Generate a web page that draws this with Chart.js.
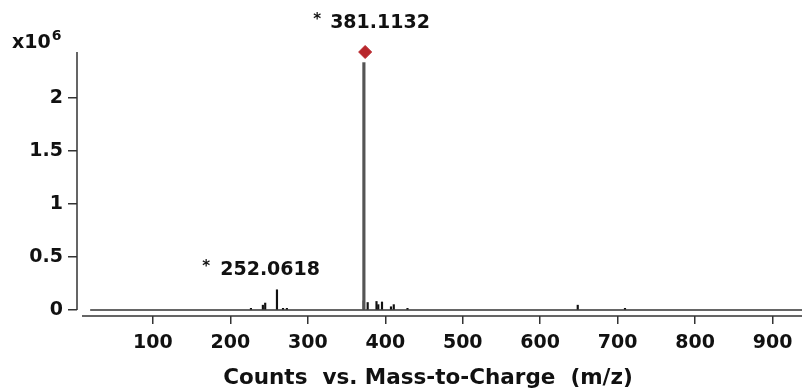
<!DOCTYPE html>
<html lang="en">
<head>
  <meta charset="UTF-8" />
  <title>Counts vs. Mass-to-Charge</title>
  <script src="https://cdn.jsdelivr.net/npm/chart.js"></script>
  <style>
    html, body { margin: 0; padding: 0; background: #fff; }
    #wrap { width: 802px; height: 392px; }
  </style>
</head>
<body>
  <div id="wrap"><canvas id="ms"></canvas></div>
  <script>
    // spectrum sticks (m/z, counts in x10^6)
    const mzValues    = [225.6, 241, 244, 259.2, 267, 272, 371.2, 376.3, 387.7, 390, 394.8, 406.4, 410, 427.7, 647.5, 708.5];
    const intensities = [0.015, 0.045, 0.065, 0.19, 0.015, 0.015, 0.085, 0.07, 0.08, 0.05, 0.075, 0.03, 0.05, 0.015, 0.045, 0.015];
    const basePeakMz  = [374];
    const basePeakVal = [2.33];
    const baselineMz  = [19, 938];
    const xTickValues = [100, 200, 300, 400, 500, 600, 700, 800, 900];
    const yTickValues = [0, 0.5, 1, 1.5, 2];
    const peakLabels  = ['381.1132', '252.0618'];
    const labelPeakMz = [374, 259.2];
    const markerMz    = [374];
    const markerValue = [2.43];

    const FONT = "'DejaVu Sans', sans-serif";
    const INK = '#111';

    const sticks = mzValues.map((x, i) => ({ x, y: intensities[i] }));
    const basePeak = basePeakMz.map((x, i) => ({ x, y: basePeakVal[i] }));
    const baseline = baselineMz.map(x => ({ x, y: 0 }));
    const marker = markerMz.map((x, i) => ({ x, y: markerValue[i] }));

    // axis lines drawn by hand: y axis stops at zero, x axis sits a bit below it
    const axisLines = {
      id: 'axisLines',
      afterDraw(chart) {
        const { ctx, chartArea: a, scales } = chart;
        const y0 = scales.y.getPixelForValue(0);
        ctx.save();
        ctx.strokeStyle = '#333';
        ctx.lineWidth = 1.5;
        ctx.beginPath();
        ctx.moveTo(a.left, a.top);
        ctx.lineTo(a.left, y0);
        ctx.moveTo(a.left + 5, a.bottom);
        ctx.lineTo(chart.width, a.bottom);
        ctx.stroke();

        // x10^6 exponent label
        ctx.fillStyle = INK;
        ctx.textBaseline = 'alphabetic';
        ctx.textAlign = 'left';
        ctx.font = `bold 19px ${FONT}`;
        ctx.fillText('x10', 12, 48);
        const w = ctx.measureText('x10').width;
        ctx.font = `bold 14px ${FONT}`;
        ctx.fillText('6', 12 + w + 1, 40);

        // peak annotations
        const offsets = [[-52, -35, 23], [-74, -56, 270]];
        peakLabels.forEach((txt, i) => {
          const px = scales.x.getPixelForValue(labelPeakMz[i]);
          const [dxStar, dxText, ty] = offsets[i];
          ctx.textBaseline = 'middle';
          ctx.font = `bold 15px ${FONT}`;
          ctx.fillText('*', px + dxStar, ty - 3);
          ctx.font = `bold 19px ${FONT}`;
          ctx.fillText(txt, px + dxText, ty);
        });

        // axis title
        ctx.font = `bold 21.5px ${FONT}`;
        ctx.textAlign = 'center';
        ctx.fillText('Counts  vs. Mass-to-Charge  (m/z)', 428, 378);
        ctx.restore();
      }
    };

    new Chart(document.getElementById('ms'), {
      type: 'bar',
      data: {
        datasets: [
          {
            type: 'line',
            label: 'baseline',
            data: baseline,
            borderColor: '#333',
            borderWidth: 1.5,
            pointRadius: 0,
            order: 4
          },
          {
            label: 'spectrum',
            data: sticks,
            backgroundColor: '#111',
            barThickness: 1.5,
            order: 3
          },
          {
            label: 'base peak',
            data: basePeak,
            backgroundColor: '#555',
            barThickness: 2.5,
            order: 2
          },
          {
            type: 'scatter',
            label: 'marker',
            data: marker,
            pointStyle: 'rectRot',
            pointRadius: 6.5,
            backgroundColor: '#b8262b',
            borderColor: '#b8262b',
            clip: false,
            order: 1
          }
        ]
      },
      options: {
        responsive: true,
        maintainAspectRatio: false,
        animation: false,
        layout: { autoPadding: false, padding: { top: 52, left: 0, right: 0, bottom: 0 } },
        plugins: { legend: { display: false }, tooltip: { enabled: false } },
        scales: {
          x: {
            type: 'linear',
            offset: false,
            min: 2,
            max: 938,
            afterBuildTicks: s => { s.ticks = xTickValues.map(v => ({ value: v })); },
            afterFit: s => { s.height = 76; s.paddingRight = 0; s.paddingLeft = 0; },
            border: { display: false },
            grid: { offset: false, drawOnChartArea: false, drawTicks: true, tickLength: 8, color: '#333', lineWidth: 1.5 },
            ticks: { color: INK, font: { family: FONT, size: 19, weight: 'bold' }, padding: 8, maxRotation: 0 }
          },
          y: {
            min: -0.057,
            max: 2.43,
            afterBuildTicks: s => { s.ticks = yTickValues.map(v => ({ value: v })); },
            afterFit: s => { s.width = 77; },
            border: { display: false },
            grid: { drawOnChartArea: false, drawTicks: true, tickLength: 9, color: '#333', lineWidth: 1.5 },
            ticks: { color: INK, font: { family: FONT, size: 19, weight: 'bold' }, padding: 5, callback: v => String(v) }
          }
        }
      },
      plugins: [axisLines]
    });
  </script>
</body>
</html>
